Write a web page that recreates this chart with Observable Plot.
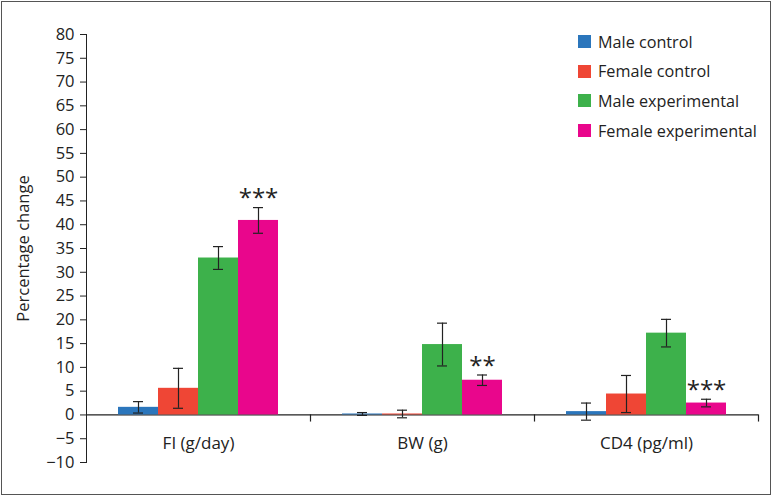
<!DOCTYPE html>
<html><head><meta charset="utf-8">
<script src="https://cdn.jsdelivr.net/npm/d3@7"></script>
<script src="https://cdn.jsdelivr.net/npm/@observablehq/plot@0.6"></script>
<style>
body{margin:0;background:#fff;}
#wrap{position:relative;width:773px;height:498px;font-family:"Open Sans",sans-serif;}
#border{position:absolute;left:1px;top:1px;width:768px;height:492px;border:1.5px solid #555;pointer-events:none}
#legend{position:absolute;left:578px;top:27px;}
.row{display:flex;align-items:center;height:29.6px;font-size:16.2px;color:#222}
.sw{width:13px;height:13px;margin-right:7px}
</style></head><body><div id="wrap"><div id="chart"></div><div id="legend"></div><div id="border"></div></div>
<script>
const categories = ["FI (g/day)", "BW (g)", "CD4 (pg/ml)"];
const series = ["Male control", "Female control", "Male experimental", "Female experimental"];
const colors = ["#2b76bc", "#ef4635", "#3db14b", "#e9068c"];
const maleControl = [1.6, 0.2, 0.7];
const femaleControl = [5.6, 0.2, 4.4];
const maleExperimental = [33.0, 14.8, 17.2];
const femaleExperimental = [40.9, 7.3, 2.5];
const maleControlErr = [1.2, 0.3, 1.8];
const femaleControlErr = [4.2, 0.8, 3.9];
const maleExperimentalErr = [2.4, 4.5, 2.9];
const femaleExperimentalErr = [2.7, 1.1, 0.8];
const femaleExperimentalStars = ["***", "**", "***"];
const yTicks = [-10, -5, 0, 5, 10, 15, 20, 25, 30, 35, 40, 45, 50, 55, 60, 65, 70, 75, 80];

const values = [maleControl, femaleControl, maleExperimental, femaleExperimental];
const errors = [maleControlErr, femaleControlErr, maleExperimentalErr, femaleExperimentalErr];
const data = [];
categories.forEach((c, i) => series.forEach((s, j) => data.push({category: c, series: s, value: values[j][i], err: errors[j][i]})));
const starData = categories.map((c, i) => ({category: c, series: series[3], hi: femaleExperimental[i] + femaleExperimentalErr[i], text: femaleExperimentalStars[i]}));

const W = 773, H = 498, mT = 34, mB = 36, mL = 85, mR = 14;
const yDom = [-10, 80];
const innerH = H - mT - mB;
const zeroOff = innerH * (yDom[1] - 0) / (yDom[1] - yDom[0]);
const tickLen = 6;

const plot = Plot.plot({
  width: W, height: H, marginLeft: mL, marginRight: mR, marginTop: mT, marginBottom: mB,
  style: {fontFamily: "Open Sans, sans-serif", fontSize: "16.5px", color: "#222", background: "transparent"},
  fx: {domain: categories, padding: 0, axis: null},
  x: {domain: series, paddingInner: 0, paddingOuter: 0.74, axis: null},
  y: {domain: yDom, ticks: yTicks, tickSize: tickLen, tickPadding: 6, label: "Percentage change", labelAnchor: "center", labelOffset: 69, labelArrow: "none", line: true},
  color: {domain: series, range: colors},
  marks: [
    Plot.ruleY([0], {stroke: "#222", strokeWidth: 1.2}),
    Plot.barY(data, {fx: "category", x: "series", y: "value", fill: "series"}),
    Plot.ruleX(data, {fx: "category", x: "series", y1: d => d.value - d.err, y2: d => d.value + d.err, stroke: "#222", strokeWidth: 1.2}),
    Plot.tickY(data, {fx: "category", x: "series", y: d => d.value + d.err, insetLeft: 15, insetRight: 15, stroke: "#222", strokeWidth: 1.2}),
    Plot.tickY(data, {fx: "category", x: "series", y: d => d.value - d.err, insetLeft: 15, insetRight: 15, stroke: "#222", strokeWidth: 1.2}),
    Plot.text(starData, {fx: "category", x: "series", y: "hi", text: "text", dy: -9, fontSize: 24, letterSpacing: "2px", fill: "#222"}),
    Plot.text(categories, {fx: d => d, y: () => -6, text: d => d, fontSize: 17, fill: "#222"}),
    Plot.frame({anchor: "right", insetTop: zeroOff, insetBottom: innerH - zeroOff - tickLen, stroke: "#222", strokeWidth: 1.2})
  ]
});
document.getElementById("chart").appendChild(plot);

const legend = document.getElementById("legend");
series.forEach((s, i) => {
  const row = document.createElement("div");
  row.className = "row";
  const sw = document.createElement("div");
  sw.className = "sw";
  sw.style.background = colors[i];
  const t = document.createElement("span");
  t.textContent = s;
  row.appendChild(sw); row.appendChild(t);
  legend.appendChild(row);
});
</script></body></html>
